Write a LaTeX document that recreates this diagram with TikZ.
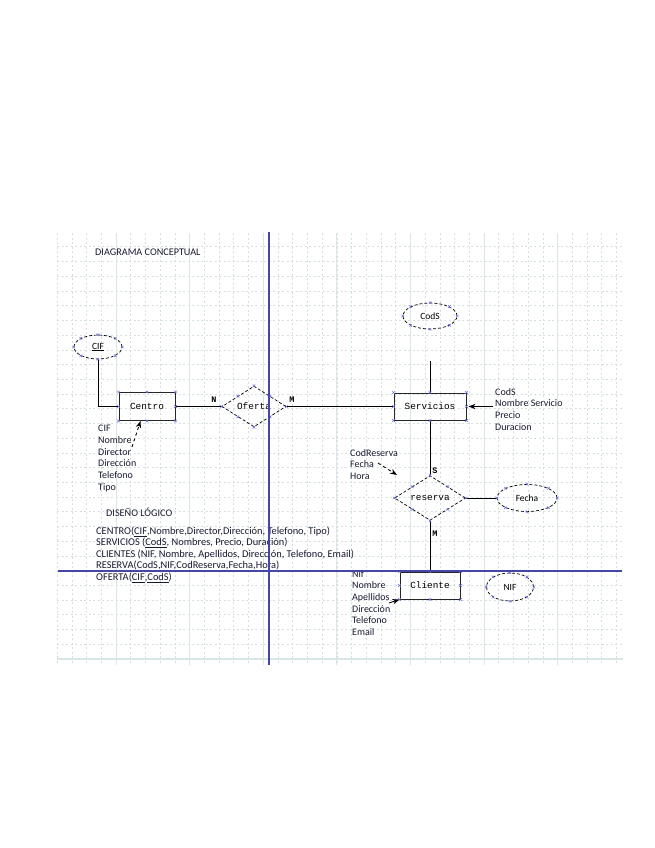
\documentclass[tikz,border=0pt]{standalone}
\usepackage{fontspec}
\setmainfont{Carlito}
\setmonofont{Liberation Mono}
\usetikzlibrary{
  arrows.meta,
  shapes.geometric
}
\definecolor{rejilla}{RGB}{212,224,224}
\definecolor{rejillamayor}{RGB}{218,230,230}
\definecolor{guia}{RGB}{70,70,168}
\definecolor{punto}{RGB}{110,110,225}
\definecolor{tinta}{RGB}{25,25,50}

% puntos de conexion (cruces azules)
\newcommand{\cpuntos}[1]{%
  \foreach \a in {north,north east,east,south east,south,south west,west,north west}{
    \draw[conexion] (#1.\a) +(-1.3,-1.3) -- +(1.3,1.3) +(-1.3,1.3) -- +(1.3,-1.3);
  }%
}

\begin{document}
\begin{tikzpicture}[
  x=1pt,y=-1pt,
  >=Stealth,
  entidad/.style={draw=black!85,line width=0.9pt,inner sep=0pt,
    font=\ttfamily\fontsize{9.4}{10}\selectfont},
  relacion/.style={diamond,draw,dash pattern=on 3pt off 2pt,line width=0.7pt,inner sep=0pt,
    font=\ttfamily\fontsize{9.4}{10}\selectfont},
  atrib/.style={ellipse,draw,dash pattern=on 3pt off 2pt,line width=0.7pt,inner sep=0pt,
    font=\fontsize{9.5}{10}\selectfont},
  lista/.style={anchor=north west,inner sep=0pt,align=left,text=tinta,
    font=\fontsize{10}{11.7}\selectfont},
  card/.style={font=\ttfamily\bfseries\fontsize{8.5}{9}\selectfont},
  linea/.style={line width=0.9pt},
  flecha/.style={->,line width=0.9pt},
  conexion/.style={punto,line width=0.5pt}
]
\useasboundingbox (0,0) rectangle (655,848);

%--------------------
% rejilla
%--------------------
\foreach \i in {0,...,38}{
  \pgfmathsetmacro\gx{57.2+14.72*\i}
  \draw[rejilla,line width=0.7pt,dash pattern=on 2pt off 2.5pt] (\gx,233) -- (\gx,665);
}
\foreach \j in {1,...,28}{
  \pgfmathsetmacro\gy{232.1+14.72*\j}
  \draw[rejilla,line width=0.7pt,dash pattern=on 2pt off 2.5pt] (57,\gy) -- (623,\gy);
}
\foreach \i in {4,9,...,34}{
  \pgfmathsetmacro\gx{57.2+14.72*\i}
  \draw[rejillamayor,line width=1.1pt] (\gx,233) -- (\gx,665);
}
\draw[rejillamayor,line width=1.1pt] (57,659) -- (623,659);

%--------------------
% diagrama conceptual
%--------------------
\node[anchor=west,inner sep=0pt,text=tinta,font=\fontsize{10.2}{11}\selectfont]
  (titulo) at (95,252) {DIAGRAMA CONCEPTUAL};

% entidades
\node[entidad,minimum width=56pt,minimum height=28pt] (centro) at (147,406.5) {Centro};
\node[entidad,minimum width=72pt,minimum height=27pt] (serv) at (430,406.5) {Servicios};
\node[entidad,minimum width=60pt,minimum height=27pt] (cli) at (430,585.5) {Cliente};

% relaciones
\node[relacion,minimum width=64pt,minimum height=38pt] (oferta) at (254,406.5) {Oferta};
\node[relacion,minimum width=71pt,minimum height=42pt] (reserva) at (430,498) {reserva};

% atributos clave
\node[atrib,minimum width=48pt,minimum height=24pt] (cif) at (98,347) {\underline{CIF}};
\node[atrib,minimum width=54pt,minimum height=26pt] (cods) at (430,316) {CodS};
\node[atrib,minimum width=60pt,minimum height=27pt] (fecha) at (527,498) {Fecha};
\node[atrib,minimum width=47pt,minimum height=28pt] (nif) at (510,587) {NIF};

% conexiones
\draw[linea] (cif.south) |- (centro.west);
\draw[linea] (centro.east) -- (oferta.west);
\draw[linea] (oferta.east) -- (serv.west);
\coordinate (cCodS) at (430,361);
\draw[linea] (cCodS) -- (serv.north);
\draw[linea] (serv.south) -- (reserva.north);
\draw[linea] (reserva.south) -- (cli.north);
\draw[linea] (reserva.east) -- (fecha.west);

% cardinalidades
\node[card] (cN) at (214,400) {N};
\node[card] (cM) at (292,400) {M};
\node[card] (cS) at (435,471) {S};
\node[card] (cM2) at (435,534) {M};

% listas de atributos
\node[lista] (atrCentro) at (98,425)
  {CIF\\Nombre\\Director\\Dirección\\Telefono\\Tipo};
\node[lista] (atrServ) at (495,388)
  {CodS\\Nombre Servicio\\Precio\\Duracion};
\node[lista] (atrRes) at (350,449)
  {CodReserva\\Fecha\\Hora};
\node[lista] (atrCli) at (352,570)
  {Nif\\Nombre\\Apellidos\\Dirección\\Telefono\\Email};

\coordinate (tCentro) at (132,447);
\draw[flecha,dashed] (tCentro) -- ([xshift=22]centro.south west);
\draw[flecha] ([xshift=-2]atrServ.west |- serv.east) -- ([xshift=2]serv.east);
\coordinate (tRes) at (378,463);
\coordinate (pRes) at (397,475);
\draw[flecha,dashed] (tRes) -- (pRes);
\coordinate (tCli) at (389,603);
\draw[flecha] (tCli) -- (cli.south west);

% cruces de conexion
\cpuntos{centro}
\cpuntos{serv}
\cpuntos{cli}
\cpuntos{oferta}
\cpuntos{reserva}
\cpuntos{cif}
\cpuntos{cods}
\cpuntos{fecha}
\cpuntos{nif}

%--------------------
% diseño logico
%--------------------
\node[anchor=west,inner sep=0pt,text=tinta,font=\fontsize{10.2}{11}\selectfont]
  (disenyo) at (106,512) {DISEÑO LÓGICO};
\node[lista,font=\fontsize{10.4}{11.5}\selectfont] (tablas) at (96,526.5)
  {CENTRO(\underline{CIF},Nombre,Director,Dirección, Telefono, Tipo)\\
   SERVICIOS (\underline{CodS}, Nombres, Precio, Duración)\\
   CLIENTES (NIF, Nombre, Apellidos, Dirección, Telefono, Email)\\
   RESERVA(CodS,NIF,\underline{CodReserva},Fecha,Hora)\\
   OFERTA(\underline{CIF},\underline{CodS})};

%--------------------
% guias azules
%--------------------
\draw[guia,line width=1.4pt] (269,232) -- (269,665);
\draw[guia,line width=1.4pt] (58,571) -- (622,571);

\end{tikzpicture}
\end{document}
